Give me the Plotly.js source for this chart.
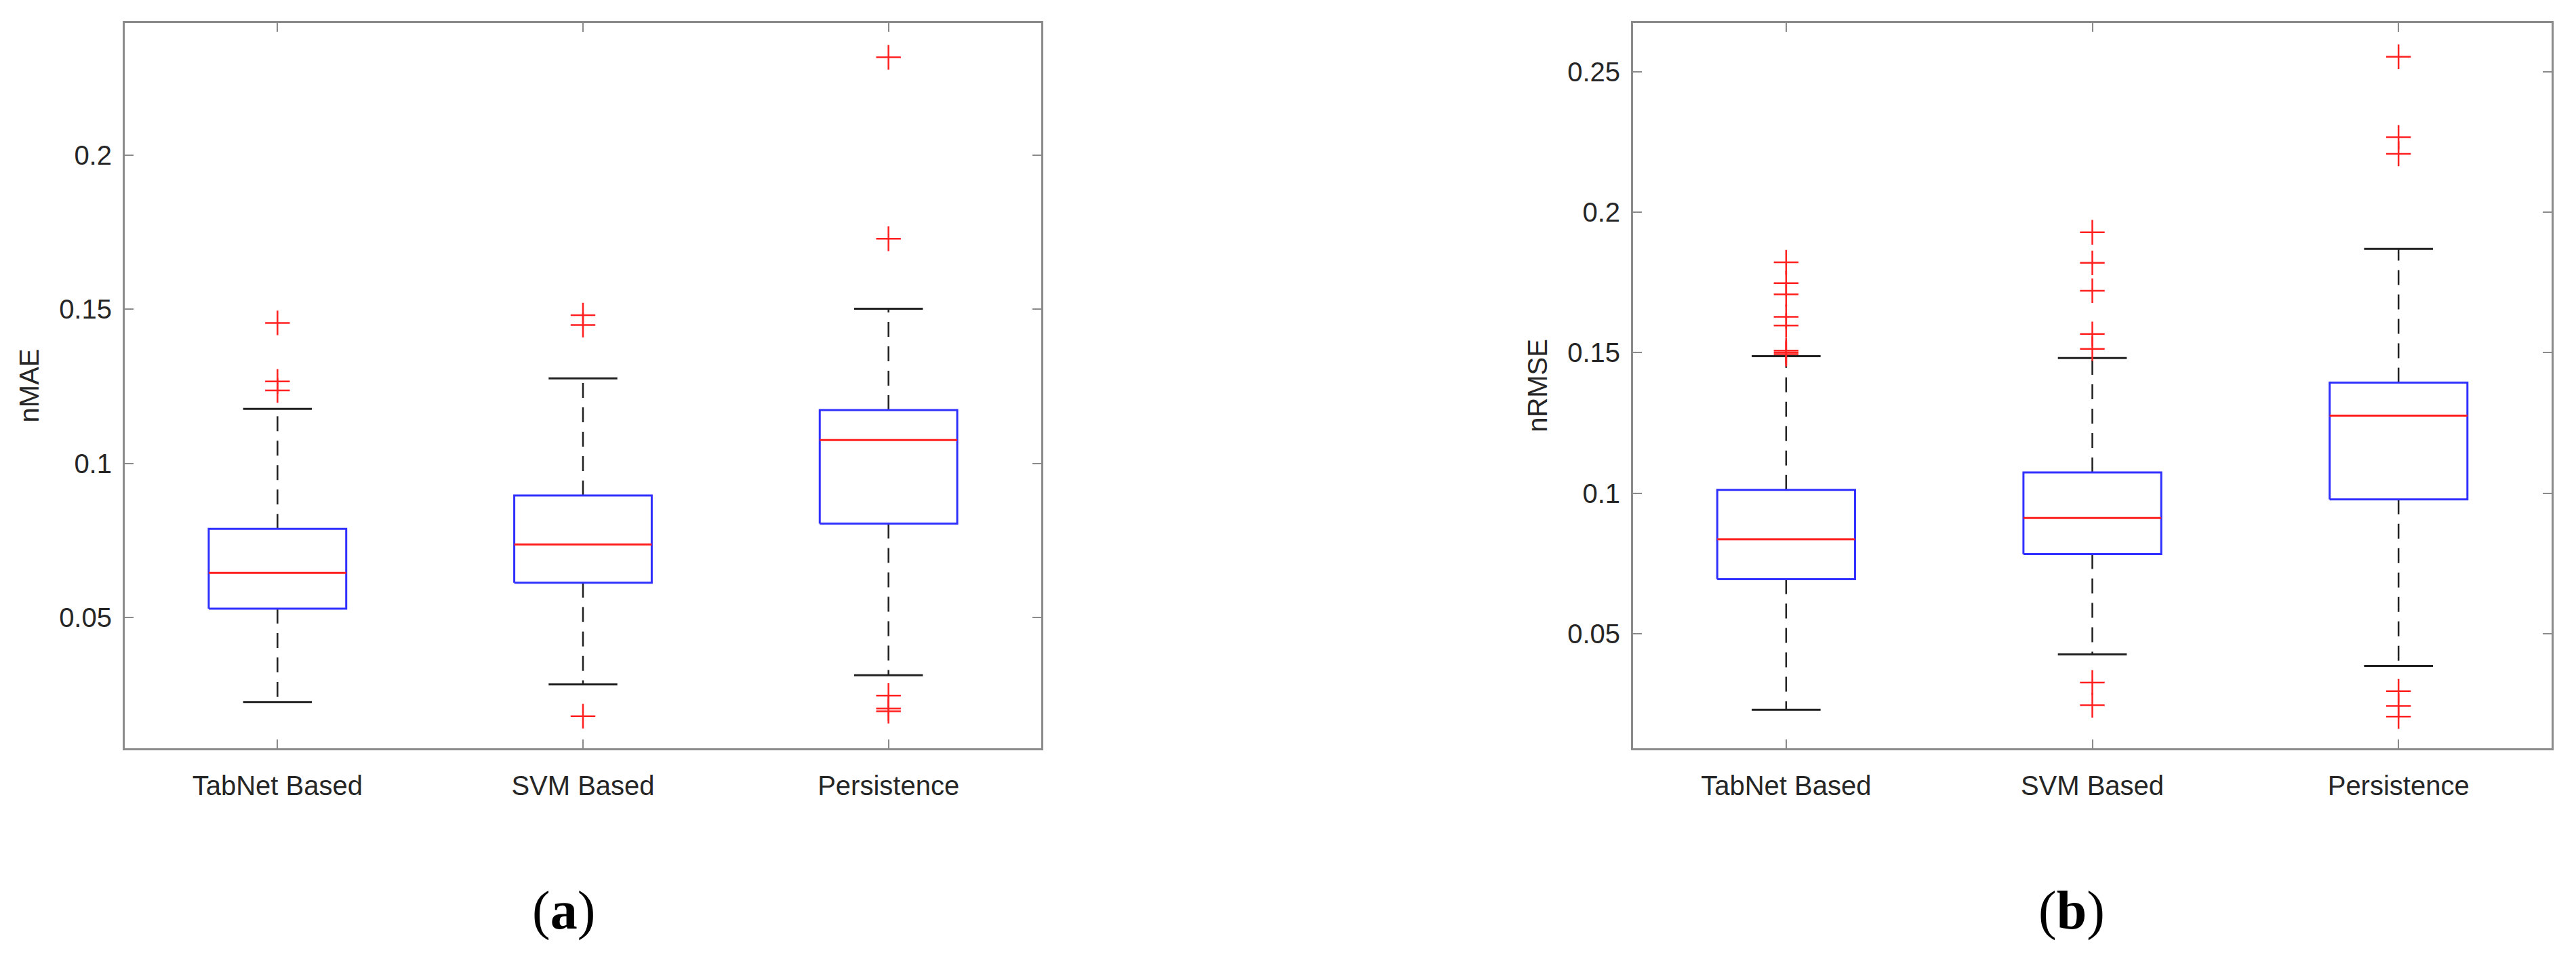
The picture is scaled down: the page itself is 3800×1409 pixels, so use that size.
<!DOCTYPE html>
<html>
<head>
<meta charset="utf-8">
<script src="https://cdn.plot.ly/plotly-3.0.1.min.js"></script>
<style>html,body{margin:0;padding:0;background:#fff;}#chart{width:3800px;height:1409px;}</style>
</head>
<body>
<div id="chart"></div>
<script>
// ---------- data ----------
const categories = ["TabNet Based", "SVM Based", "Persistence"];
const catPos = [1, 2, 3];

// (a) nMAE
const maeLowerWhisker = [0.0226, 0.0283, 0.0313];
const maeQ1           = [0.0529, 0.0613, 0.0805];
const maeMedian       = [0.0645, 0.0737, 0.1076];
const maeQ3           = [0.0788, 0.0896, 0.1173];
const maeUpperWhisker = [0.1177, 0.1276, 0.1502];
const maeOutliersTabNet = [0.1456, 0.1266, 0.1237];
const maeOutliersSVM    = [0.1481, 0.1449, 0.0180];
const maeOutliersPers   = [0.2318, 0.1729, 0.0247, 0.0205, 0.0196];

// (b) nRMSE
const rmseLowerWhisker = [0.0229, 0.0426, 0.0385];
const rmseQ1           = [0.0694, 0.0783, 0.0978];
const rmseMedian       = [0.0836, 0.0912, 0.1276];
const rmseQ3           = [0.1012, 0.1074, 0.1394];
const rmseUpperWhisker = [0.1488, 0.1481, 0.1870];
const rmseOutliersTabNet = [0.1822, 0.1748, 0.1708, 0.1628, 0.1597, 0.1508, 0.1501, 0.1495];
const rmseOutliersSVM    = [0.1929, 0.1820, 0.1721, 0.1567, 0.1514, 0.0326, 0.0245];
const rmseOutliersPers   = [0.2554, 0.2267, 0.2208, 0.0295, 0.0243, 0.0205];

const yTickVals = {a: [0.05, 0.1, 0.15, 0.2], b: [0.05, 0.1, 0.15, 0.2, 0.25]};
const yTickText = {a: ["0.05", "0.1", "0.15", "0.2"], b: ["0.05", "0.1", "0.15", "0.2", "0.25"]};

// ---------- styles ----------
const HALF_BOX = 0.225, HALF_CAP = 0.1125;
const BLUE = "#3030ff", RED = "#ff2020", BLACK = "#202020", AXIS = "#8a8a8a", TXT = "#262626";

function boxTraces(lo, q1, med, q3, hi, outs, xa, ya) {
  const bx = [], by = [], mx = [], my = [], wx = [], wy = [], cx = [], cy = [], ox = [], oy = [];
  catPos.forEach((p, i) => {
    bx.push(p - HALF_BOX, p + HALF_BOX, p + HALF_BOX, p - HALF_BOX, p - HALF_BOX, null);
    by.push(q1[i], q1[i], q3[i], q3[i], q1[i], null);
    mx.push(p - HALF_BOX, p + HALF_BOX, null);
    my.push(med[i], med[i], null);
    wx.push(p, p, null, p, p, null);
    wy.push(q3[i], hi[i], null, q1[i], lo[i], null);
    cx.push(p - HALF_CAP, p + HALF_CAP, null, p - HALF_CAP, p + HALF_CAP, null);
    cy.push(hi[i], hi[i], null, lo[i], lo[i], null);
    outs[i].forEach(v => { ox.push(p); oy.push(v); });
  });
  const base = {xaxis: xa, yaxis: ya, showlegend: false, hoverinfo: "skip", type: "scatter"};
  return [
    Object.assign({}, base, {x: wx, y: wy, mode: "lines", line: {color: BLACK, width: 2.5, dash: "22px,14px"}}),
    Object.assign({}, base, {x: cx, y: cy, mode: "lines", line: {color: BLACK, width: 3}}),
    Object.assign({}, base, {x: bx, y: by, mode: "lines", line: {color: BLUE, width: 3}}),
    Object.assign({}, base, {x: mx, y: my, mode: "lines", line: {color: RED, width: 3}}),
    Object.assign({}, base, {x: ox, y: oy, mode: "markers",
      marker: {symbol: "cross-thin", size: 26, color: RED, line: {color: RED, width: 2.5}}})
  ];
}

const traces = [].concat(
  boxTraces(maeLowerWhisker, maeQ1, maeMedian, maeQ3, maeUpperWhisker,
            [maeOutliersTabNet, maeOutliersSVM, maeOutliersPers], "x", "y"),
  boxTraces(rmseLowerWhisker, rmseQ1, rmseMedian, rmseQ3, rmseUpperWhisker,
            [rmseOutliersTabNet, rmseOutliersSVM, rmseOutliersPers], "x2", "y2")
);

const tickFont = {family: "Liberation Sans, Arial, Helvetica, sans-serif", size: 40, color: TXT};
function xAxis(domain, yref) {
  return {domain: domain, range: [0.5, 3.5], anchor: yref, tickmode: "array", tickvals: catPos,
    ticktext: categories, ticks: "inside", ticklen: 13, tickwidth: 2, tickcolor: AXIS,
    showline: true, linecolor: AXIS, linewidth: 3, mirror: "ticks", showgrid: false, zeroline: false,
    tickfont: tickFont, ticklabelstandoff: 18, fixedrange: true};
}
function yAxis(range, vals, text, title, xref) {
  return {domain: [0.2165, 0.9759], range: range, anchor: xref, tickmode: "array", tickvals: vals,
    ticktext: text, ticks: "inside", ticklen: 13, tickwidth: 2, tickcolor: AXIS,
    showline: true, linecolor: AXIS, linewidth: 3, mirror: "ticks", showgrid: false, zeroline: false,
    tickfont: tickFont, ticklabelstandoff: 8,
    title: {text: title, font: {family: "Liberation Sans, Arial, Helvetica, sans-serif", size: 40, color: TXT}, standoff: 18},
    fixedrange: true};
}

const layout = {
  width: 3800, height: 1409,
  margin: {l: 0, r: 0, t: 0, b: 0},
  paper_bgcolor: "#ffffff", plot_bgcolor: "#ffffff",
  showlegend: false,
  xaxis: xAxis([0.04842, 0.40421], "y"),
  yaxis: yAxis([0.0076, 0.2429], yTickVals.a, yTickText.a, "nMAE", "x"),
  xaxis2: xAxis([0.63395, 0.99053], "y2"),
  yaxis2: yAxis([0.0092, 0.2674], yTickVals.b, yTickText.b, "nRMSE", "x2"),
  annotations: [
    {text: "(<b>a</b>)", xref: "paper", yref: "paper", x: 831 / 3800, y: 1 - 1343 / 1409,
     xanchor: "center", yanchor: "middle", showarrow: false,
     font: {family: "Liberation Serif, Times New Roman, serif", size: 80, color: "#000"}},
    {text: "(<b>b</b>)", xref: "paper", yref: "paper", x: 3056 / 3800, y: 1 - 1343 / 1409,
     xanchor: "center", yanchor: "middle", showarrow: false,
     font: {family: "Liberation Serif, Times New Roman, serif", size: 80, color: "#000"}}
  ]
};

Plotly.newPlot("chart", traces, layout, {displayModeBar: false, staticPlot: true});
</script>
</body>
</html>
